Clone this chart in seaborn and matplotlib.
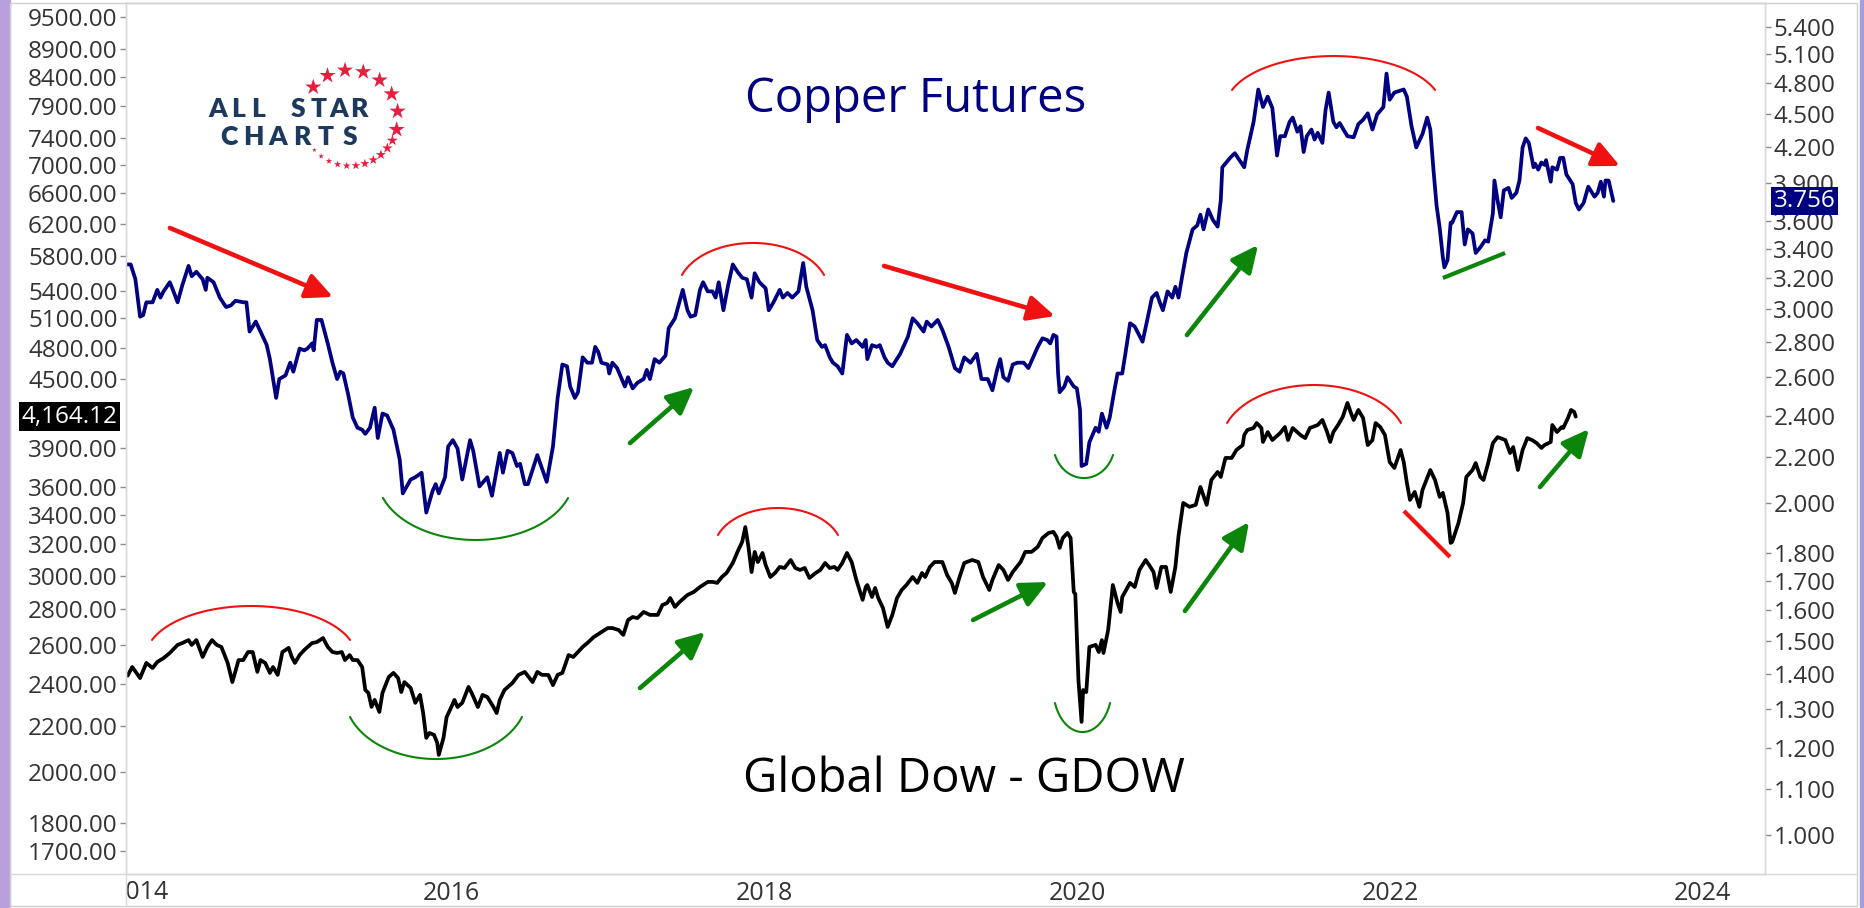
import matplotlib

matplotlib.use("Agg")
import matplotlib.pyplot as plt
import matplotlib.transforms as mtransforms
import numpy as np
import pandas as pd
import seaborn as sns
from matplotlib.lines import Line2D
from matplotlib.patches import Rectangle
from matplotlib.ticker import FixedLocator, FuncFormatter, NullLocator

# --- Copper futures (right axis), weekly-ish readings ---
copper_year = [
    2014.13, 2014.15, 2014.18, 2014.21, 2014.23, 2014.25, 2014.29, 2014.32, 2014.34, 2014.36,
    2014.40, 2014.42, 2014.45, 2014.48, 2014.52, 2014.54, 2014.57, 2014.61, 2014.63, 2014.64,
    2014.68, 2014.72, 2014.76, 2014.79, 2014.82, 2014.87, 2014.89, 2014.91, 2014.95, 2014.96,
    2015.00, 2015.02, 2015.04, 2015.08, 2015.10, 2015.14, 2015.17, 2015.19, 2015.23, 2015.26,
    2015.28, 2015.31, 2015.32, 2015.34, 2015.37, 2015.41, 2015.44, 2015.47, 2015.49, 2015.51,
    2015.54, 2015.57, 2015.60, 2015.63, 2015.65, 2015.68, 2015.71, 2015.73, 2015.76, 2015.79,
    2015.83, 2015.87, 2015.89, 2015.94, 2015.97, 2016.01, 2016.04, 2016.08, 2016.10, 2016.12,
    2016.16, 2016.18, 2016.21, 2016.24, 2016.27, 2016.32, 2016.34, 2016.38, 2016.43, 2016.46,
    2016.51, 2016.53, 2016.56, 2016.59, 2016.62, 2016.64, 2016.67, 2016.69, 2016.75, 2016.81,
    2016.85, 2016.88, 2016.91, 2016.94, 2016.96, 2016.99, 2017.01, 2017.04, 2017.07, 2017.10,
    2017.12, 2017.14, 2017.16, 2017.20, 2017.21, 2017.23, 2017.26, 2017.29, 2017.31, 2017.33,
    2017.36, 2017.39, 2017.43, 2017.45, 2017.47, 2017.50, 2017.53, 2017.57, 2017.59, 2017.63,
    2017.65, 2017.68, 2017.71, 2017.73, 2017.76, 2017.79, 2017.81, 2017.84, 2017.87, 2017.89,
    2017.91, 2017.94, 2017.97, 2018.00, 2018.03, 2018.06, 2018.09, 2018.12, 2018.14, 2018.17,
    2018.21, 2018.23, 2018.26, 2018.30, 2018.32, 2018.35, 2018.38, 2018.42, 2018.45, 2018.47,
    2018.51, 2018.54, 2018.57, 2018.59, 2018.62, 2018.64, 2018.67, 2018.70, 2018.73, 2018.76,
    2018.79, 2018.83, 2018.85, 2018.86, 2018.89, 2018.92, 2018.94, 2018.97, 2018.99, 2019.02,
    2019.07, 2019.12, 2019.15, 2019.18, 2019.22, 2019.24, 2019.27, 2019.31, 2019.34, 2019.38,
    2019.42, 2019.45, 2019.48, 2019.52, 2019.56, 2019.59, 2019.63, 2019.66, 2019.69, 2019.71,
    2019.73, 2019.76, 2019.79, 2019.82, 2019.86, 2019.89, 2019.95, 2019.98, 2020.01, 2020.03,
    2020.05, 2020.07, 2020.08, 2020.09, 2020.12, 2020.14, 2020.18, 2020.20, 2020.22, 2020.23,
    2020.26, 2020.28, 2020.32, 2020.34, 2020.36, 2020.39, 2020.41, 2020.44, 2020.46, 2020.49,
    2020.51, 2020.54, 2020.57, 2020.62, 2020.65, 2020.68, 2020.71, 2020.73, 2020.75, 2020.78,
    2020.81, 2020.83, 2020.85, 2020.87, 2020.90, 2020.94, 2020.97, 2020.99, 2021.01, 2021.04,
    2021.07, 2021.10, 2021.12, 2021.13, 2021.18, 2021.21, 2021.24, 2021.27, 2021.29, 2021.33,
    2021.36, 2021.39, 2021.42, 2021.45, 2021.48, 2021.50, 2021.53, 2021.56, 2021.58, 2021.61,
    2021.63, 2021.65, 2021.67, 2021.70, 2021.72, 2021.74, 2021.77, 2021.79, 2021.81, 2021.84,
    2021.86, 2021.88, 2021.93, 2021.97, 2022.00, 2022.03, 2022.06, 2022.09, 2022.12, 2022.16,
    2022.18, 2022.20, 2022.23, 2022.29, 2022.31, 2022.34, 2022.37, 2022.41, 2022.44, 2022.46,
    2022.48, 2022.50, 2022.52, 2022.54, 2022.55, 2022.57, 2022.59, 2022.60, 2022.63, 2022.66,
    2022.68, 2022.70, 2022.73, 2022.75, 2022.78, 2022.81, 2022.83, 2022.86, 2022.87, 2022.89,
    2022.91, 2022.93, 2022.96, 2022.98, 2023.01, 2023.03, 2023.05, 2023.07, 2023.09, 2023.12,
    2023.13, 2023.15, 2023.17, 2023.19, 2023.20, 2023.23, 2023.24, 2023.27, 2023.29, 2023.31,
    2023.33, 2023.37, 2023.39, 2023.41, 2023.44, 2023.47, 2023.51, 2023.53, 2023.55, 2023.57,
    2023.58, 2023.60, 2023.63,
]
copper_price = [
    3.29, 3.29, 3.19, 2.95, 2.96, 3.04, 3.04, 3.12, 3.07, 3.11,
    3.17, 3.12, 3.04, 3.15, 3.28, 3.21, 3.24, 3.19, 3.12, 3.20,
    3.17, 3.07, 3.01, 3.02, 3.05, 3.04, 3.04, 2.86, 2.92, 2.90,
    2.82, 2.78, 2.70, 2.49, 2.59, 2.61, 2.68, 2.63, 2.76, 2.75,
    2.76, 2.79, 2.75, 2.93, 2.93, 2.79, 2.68, 2.59, 2.63, 2.62,
    2.51, 2.39, 2.34, 2.33, 2.31, 2.34, 2.44, 2.29, 2.41, 2.40,
    2.33, 2.19, 2.04, 2.10, 2.11, 2.13, 1.96, 2.05, 2.08, 2.04,
    2.11, 2.25, 2.28, 2.24, 2.10, 2.28, 2.23, 2.07, 2.11, 2.03,
    2.22, 2.13, 2.23, 2.22, 2.16, 2.17, 2.08, 2.08, 2.21, 2.09,
    2.25, 2.49, 2.67, 2.66, 2.55, 2.49, 2.52, 2.71, 2.68, 2.68,
    2.77, 2.74, 2.68, 2.67, 2.62, 2.68, 2.65, 2.59, 2.55, 2.60,
    2.54, 2.57, 2.59, 2.64, 2.59, 2.70, 2.68, 2.72, 2.88, 2.94,
    3.01, 3.12, 2.99, 2.95, 2.96, 3.12, 3.17, 3.11, 3.11, 3.07,
    3.17, 2.99, 3.15, 3.29, 3.24, 3.20, 3.19, 3.07, 3.23, 3.17,
    3.13, 2.99, 3.04, 3.12, 3.07, 3.10, 3.07, 3.11, 3.30, 3.14,
    2.99, 2.81, 2.77, 2.78, 2.71, 2.68, 2.66, 2.62, 2.84, 2.79,
    2.81, 2.77, 2.81, 2.70, 2.78, 2.77, 2.78, 2.71, 2.68, 2.66,
    2.73, 2.83, 2.94, 2.91, 2.86, 2.92, 2.89, 2.93, 2.87, 2.77,
    2.65, 2.63, 2.71, 2.68, 2.73, 2.59, 2.59, 2.53, 2.64, 2.70,
    2.60, 2.58, 2.67, 2.68, 2.68, 2.65, 2.77, 2.82, 2.81, 2.79,
    2.84, 2.83, 2.62, 2.52, 2.55, 2.60, 2.55, 2.54, 2.43, 2.16,
    2.17, 2.27, 2.34, 2.32, 2.41, 2.34, 2.39, 2.53, 2.62, 2.62,
    2.73, 2.91, 2.89, 2.80, 2.93, 3.07, 3.10, 3.04, 2.99, 3.11,
    3.07, 3.14, 3.07, 3.19, 3.37, 3.54, 3.57, 3.65, 3.54, 3.69,
    3.61, 3.56, 3.76, 4.03, 4.11, 4.15, 4.09, 4.03, 4.18, 4.43,
    4.74, 4.57, 4.67, 4.56, 4.13, 4.30, 4.30, 4.43, 4.47, 4.34,
    4.39, 4.16, 4.30, 4.36, 4.27, 4.33, 4.24, 4.54, 4.71, 4.43,
    4.38, 4.42, 4.30, 4.29, 4.41, 4.45, 4.51, 4.36, 4.50, 4.57,
    4.90, 4.64, 4.71, 4.74, 4.67, 4.39, 4.20, 4.32, 4.47, 4.36,
    4.01, 3.72, 3.55, 3.34, 3.27, 3.32, 3.59, 3.59, 3.67, 3.67,
    3.43, 3.54, 3.51, 3.37, 3.41, 3.46, 3.45, 3.66, 3.92, 3.76,
    3.63, 3.84, 3.86, 3.78, 3.82, 3.92, 4.20, 4.28, 4.24, 4.03,
    4.06, 4.01, 4.07, 4.05, 4.09, 3.91, 4.03, 4.01, 4.11, 4.11,
    3.97, 3.89, 3.74, 3.69, 3.74, 3.87, 3.79, 3.82, 3.91, 3.79,
    3.92, 3.92, 3.756,
]

# --- Global Dow (left axis) ---
gdow_year = [
    2014.13, 2014.16, 2014.21, 2014.25, 2014.29, 2014.32, 2014.36, 2014.40, 2014.45, 2014.48,
    2014.52, 2014.54, 2014.57, 2014.61, 2014.64, 2014.67, 2014.70, 2014.73, 2014.77, 2014.80,
    2014.84, 2014.87, 2014.90, 2014.93, 2014.96, 2014.98, 2015.01, 2015.04, 2015.06, 2015.09,
    2015.12, 2015.16, 2015.18, 2015.20, 2015.23, 2015.26, 2015.31, 2015.34, 2015.38, 2015.41,
    2015.44, 2015.47, 2015.50, 2015.52, 2015.55, 2015.57, 2015.60, 2015.63, 2015.65, 2015.67,
    2015.69, 2015.71, 2015.74, 2015.76, 2015.80, 2015.83, 2015.86, 2015.88, 2015.90, 2015.94,
    2015.97, 2016.00, 2016.02, 2016.04, 2016.06, 2016.09, 2016.11, 2016.12, 2016.15, 2016.17,
    2016.20, 2016.22, 2016.24, 2016.27, 2016.31, 2016.33, 2016.37, 2016.40, 2016.43, 2016.47,
    2016.49, 2016.51, 2016.54, 2016.59, 2016.63, 2016.67, 2016.72, 2016.75, 2016.78, 2016.82,
    2016.85, 2016.88, 2016.91, 2016.95, 2016.98, 2017.04, 2017.07, 2017.11, 2017.15, 2017.20,
    2017.23, 2017.27, 2017.30, 2017.33, 2017.36, 2017.39, 2017.43, 2017.47, 2017.52, 2017.55,
    2017.58, 2017.60, 2017.63, 2017.66, 2017.71, 2017.75, 2017.79, 2017.84, 2017.87, 2017.90,
    2017.93, 2017.96, 2017.98, 2018.00, 2018.03, 2018.06, 2018.08, 2018.10, 2018.12, 2018.14,
    2018.16, 2018.19, 2018.21, 2018.24, 2018.27, 2018.30, 2018.33, 2018.37, 2018.40, 2018.43,
    2018.46, 2018.49, 2018.53, 2018.56, 2018.59, 2018.62, 2018.65, 2018.67, 2018.70, 2018.73,
    2018.76, 2018.79, 2018.83, 2018.85, 2018.86, 2018.89, 2018.91, 2018.93, 2018.96, 2018.99,
    2019.02, 2019.05, 2019.08, 2019.11, 2019.15, 2019.18, 2019.21, 2019.23, 2019.26, 2019.29,
    2019.34, 2019.37, 2019.40, 2019.42, 2019.45, 2019.48, 2019.53, 2019.57, 2019.60, 2019.64,
    2019.66, 2019.70, 2019.73, 2019.76, 2019.79, 2019.84, 2019.87, 2019.91, 2019.95, 2019.98,
    2020.02, 2020.05, 2020.07, 2020.09, 2020.11, 2020.14, 2020.16, 2020.18, 2020.19, 2020.21,
    2020.23, 2020.24, 2020.26, 2020.28, 2020.32, 2020.34, 2020.36, 2020.37, 2020.40, 2020.43,
    2020.46, 2020.48, 2020.49, 2020.54, 2020.57, 2020.60, 2020.64, 2020.67, 2020.69, 2020.71,
    2020.74, 2020.77, 2020.80, 2020.83, 2020.85, 2020.88, 2020.92, 2020.96, 2020.99, 2021.03,
    2021.06, 2021.10, 2021.12, 2021.15, 2021.19, 2021.22, 2021.26, 2021.27, 2021.29, 2021.33,
    2021.35, 2021.38, 2021.39, 2021.42, 2021.45, 2021.50, 2021.53, 2021.55, 2021.58, 2021.63,
    2021.66, 2021.69, 2021.74, 2021.77, 2021.80, 2021.82, 2021.84, 2021.87, 2021.90, 2021.93,
    2021.95, 2021.97, 2022.00, 2022.03, 2022.06, 2022.09, 2022.11, 2022.14, 2022.17, 2022.20,
    2022.23, 2022.27, 2022.29, 2022.31, 2022.33, 2022.36, 2022.39, 2022.41, 2022.46, 2022.49,
    2022.52, 2022.54, 2022.57, 2022.59, 2022.60, 2022.64, 2022.67, 2022.69, 2022.73, 2022.75,
    2022.78, 2022.80, 2022.83, 2022.86, 2022.89, 2022.94, 2022.97, 2022.99, 2023.02, 2023.05,
    2023.08, 2023.11, 2023.14, 2023.17, 2023.19, 2023.23, 2023.24, 2023.27, 2023.30, 2023.31,
    2023.34, 2023.36, 2023.38, 2023.39,
]
gdow_price = [
    2440, 2484, 2428, 2505, 2479, 2510, 2530, 2557, 2600, 2610,
    2626, 2600, 2626, 2536, 2589, 2626, 2600, 2589, 2505, 2408,
    2520, 2520, 2562, 2562, 2459, 2520, 2505, 2454, 2484, 2444,
    2562, 2584, 2536, 2505, 2546, 2573, 2610, 2615, 2637, 2589,
    2562, 2557, 2562, 2520, 2546, 2520, 2520, 2484, 2369, 2355,
    2288, 2321, 2264, 2355, 2433, 2454, 2428, 2359, 2408, 2379,
    2307, 2345, 2259, 2146, 2168, 2159, 2124, 2072, 2146, 2240,
    2287, 2321, 2287, 2307, 2384, 2355, 2287, 2345, 2335, 2287,
    2259, 2321, 2369, 2403, 2444, 2459, 2408, 2459, 2444, 2444,
    2393, 2444, 2454, 2546, 2536, 2589, 2610, 2642, 2664, 2692,
    2692, 2681, 2654, 2737, 2754, 2748, 2783, 2766, 2766, 2823,
    2835, 2864, 2812, 2841, 2882, 2900, 2930, 2961, 2961, 2955,
    2991, 3016, 3047, 3079, 3150, 3216, 3316, 3183, 3022, 3150,
    3085, 3143, 3066, 2991, 3016, 3054, 3047, 3098, 3047, 3035,
    3047, 2985, 3016, 3035, 3079, 3047, 3054, 3035, 3079, 3143,
    3085, 2973, 2853, 2930, 2942, 2870, 2924, 2864, 2806, 2698,
    2766, 2864, 2912, 2942, 2991, 2955, 3016, 2991, 3054, 3085,
    3085, 3004, 2955, 2894, 2991, 3079, 3098, 3085, 2991, 2912,
    2973, 3066, 3035, 2973, 3022, 3085, 3150, 3150, 3183, 3242,
    3276, 3283, 3249, 3176, 3242, 3276, 3242, 2900, 2888, 2418,
    2218, 2369, 2359, 2589, 2600, 2562, 2626, 2557, 2681, 2942,
    2835, 2783, 2870, 2955, 2930, 3035, 3098, 3054, 3022, 2924,
    3054, 3054, 2900, 3054, 3256, 3485, 3457, 3471, 3602, 3471,
    3654, 3715, 3677, 3824, 3824, 3887, 3927, 4009, 4051, 4068,
    4110, 4068, 3952, 4034, 3968, 4026, 4076, 3968, 4068, 4009,
    3984, 4068, 4093, 4136, 4034, 3952, 4034, 4093, 4162, 4284,
    4205, 4136, 4222, 4153, 3927, 3968, 4110, 4076, 4009, 3792,
    3746, 3887, 3792, 3632, 3507, 3565, 3457, 3580, 3730, 3654,
    3529, 3558, 3414, 3209, 3216, 3344, 3485, 3677, 3730, 3784,
    3677, 3654, 3784, 3943, 3992, 3968, 3863, 3911, 3730, 3887,
    3984, 3968, 3943, 3904, 3927, 3952, 4093, 4034, 4076, 4068,
    4153, 4222, 4205, 4164.12,
]

gdow_ticks = [1700, 1800, 2000, 2200, 2400, 2600, 2800, 3000, 3200, 3400, 3600, 3900,
              4500, 4800, 5100, 5400, 5800, 6200, 6600, 7000, 7400, 7900, 8400, 8900, 9500]
copper_ticks = [1.0, 1.1, 1.2, 1.3, 1.4, 1.5, 1.6, 1.7, 1.8, 2.0, 2.2, 2.4, 2.6, 2.8,
                3.0, 3.2, 3.4, 3.6, 3.9, 4.2, 4.5, 4.8, 5.1, 5.4]
year_ticks = [2016, 2018, 2020, 2022, 2024]

NAVY = "#000080"
RED = "#f01212"
GREEN = "#0b860b"
GRID = "#d9d9d9"


def draw_arrow(ax, tail, head, color):
    ax.annotate("", xy=head, xytext=tail, xycoords="axes fraction", textcoords="axes fraction",
                arrowprops=dict(arrowstyle="-|>,head_length=0.95,head_width=0.45", color=color, lw=3.3,
                                shrinkA=0, shrinkB=0, mutation_scale=17), zorder=6)


def draw_segment(ax, p0, p1, color):
    ax.plot([p0[0], p1[0]], [p0[1], p1[1]], transform=ax.transAxes, color=color, lw=3.0,
            solid_capstyle="butt", zorder=6)


def draw_arc(ax, x0, x1, y_end, y_peak, color):
    # elliptical arc through both ends and the apex, in axes fraction
    a = np.deg2rad(20)
    rx = (x1 - x0) / 2 / np.cos(a)
    ry = (y_peak - y_end) / (1 - np.sin(a))
    t = np.linspace(a, np.pi - a, 80)
    ax.plot((x0 + x1) / 2 + rx * np.cos(t), y_peak - ry + ry * np.sin(t), transform=ax.transAxes,
            color=color, lw=1.5, zorder=6)


sns.set_style("white")
plt.rcParams["font.family"] = ["Open Sans", "DejaVu Sans"]

W, H = 1865, 908
fig = plt.figure(figsize=(W / 100, H / 100), dpi=100)
fig.patch.set_facecolor("white")
ax = fig.add_axes([126 / W, 34 / H, 1639 / W, 871 / H])
ax2 = ax.twinx()

gdow_df = pd.DataFrame({"year": gdow_year, "price": gdow_price})
copper_df = pd.DataFrame({"year": copper_year, "price": copper_price})
sns.lineplot(data=gdow_df, x="year", y="price", ax=ax, color="black", lw=2.7, estimator=None, sort=False)
sns.lineplot(data=copper_df, x="year", y="price", ax=ax2, color=NAVY, lw=2.7, estimator=None, sort=False)

ax.set_yscale("log")
ax2.set_yscale("log")
ax.set_xlim(2014.12, 2024.60)
ax.set_ylim(1620.5, 9778)
ax2.set_ylim(0.9218, 5.678)
for a in (ax, ax2):
    a.set_xlabel("")
    a.set_ylabel("")
    a.yaxis.set_minor_locator(NullLocator())

ax.yaxis.set_major_locator(FixedLocator(gdow_ticks))
ax.yaxis.set_major_formatter(FuncFormatter(lambda v, _: f"{v:.2f}"))
ax2.yaxis.set_major_locator(FixedLocator(copper_ticks))
ax2.yaxis.set_major_formatter(FuncFormatter(lambda v, _: f"{v:.3f}"))
ax.tick_params(axis="y", direction="out", length=4, width=1, color="#8a8a8a", labelsize=17.5,
               labelcolor="#333333", pad=2)
ax2.tick_params(axis="y", direction="out", length=4, width=1, color="#8a8a8a", labelsize=17.5,
                labelcolor="#333333", pad=2)

ax.set_xticks(year_ticks)
ax.set_xticklabels([str(y) for y in year_ticks])
ax.tick_params(axis="x", direction="out", length=22, width=1, color=GRID, labelsize=18,
               labelcolor="#333333", pad=-17)
shift = mtransforms.ScaledTranslation(3 / 100, 0, fig.dpi_scale_trans)
for lbl in ax.get_xticklabels():
    lbl.set_horizontalalignment("left")
    lbl.set_transform(lbl.get_transform() + shift)

# 2014 label, its first digit sits under the price-scale panel
t2014 = ax.text(2014.0, -0.0068, "2014", transform=ax.get_xaxis_transform(), ha="left", va="top",
                fontsize=18, color="#333333")
t2014.set_transform(t2014.get_transform() + mtransforms.ScaledTranslation(5 / 100, 0, fig.dpi_scale_trans))

for a in (ax, ax2):
    for side in a.spines.values():
        side.set_color(GRID)
        side.set_linewidth(1)
ax.grid(False)
ax2.grid(False)

# last-value tags
ax.text(-0.0052, 4164.12, "4,164.12", transform=mtransforms.blended_transform_factory(ax.transAxes, ax.transData),
        ha="right", va="center", fontsize=17.5, color="white", zorder=8, clip_on=False,
        bbox=dict(boxstyle="square,pad=0.1", fc="black", ec="none"))
ax2.text(1.0052, 3.756, "3.756", transform=mtransforms.blended_transform_factory(ax2.transAxes, ax2.transData),
         ha="left", va="center", fontsize=17.5, color="white", zorder=8, clip_on=False,
         bbox=dict(boxstyle="square,pad=0.1", fc=NAVY, ec="none"))

# titles
ax2.text(0.482, 0.889, "Copper Futures", transform=ax2.transAxes, ha="center", va="center",
         fontsize=34, color=NAVY)
ax2.text(0.5113, 0.109, "Global Dow - GDOW", transform=ax2.transAxes, ha="center", va="center",
         fontsize=34, color="black")

# logo
LOGO = "#1d3a5c"
for word, x0, dx, yy in (("ALL STAR", 0.0560, 0.01227, 0.8783), ("CHARTS", 0.0628, 0.01476, 0.8462)):
    for i, ch in enumerate(word):
        ax2.text(x0 + i * dx, yy, ch, transform=ax2.transAxes, ha="center", va="center",
                 fontsize=19, fontweight="heavy", color=LOGO, family=["Lato", "DejaVu Sans"])
star_angles = np.deg2rad(np.r_[np.arange(140, -20, -22), np.arange(-28, -140, -11)])
star_sizes = np.r_[np.full(8, 150.0), np.linspace(70, 12, 11)]
ax2.scatter(0.1367 + 0.0293 * np.cos(star_angles), 0.8680 + 0.0551 * np.sin(star_angles),
            s=star_sizes, marker="*", color="#e3203f", linewidths=0, transform=ax2.transAxes, zorder=7)

# annotations: trend arrows
for tail, head in (((0.0268, 0.7417), (0.1263, 0.6625)),
                   ((0.4625, 0.6981), (0.5668, 0.6406)),
                   ((0.8615, 0.8565), (0.9115, 0.8129))):
    draw_arrow(ax2, tail, head, RED)
for tail, head in (((0.3075, 0.4948), (0.3466, 0.5591)),
                   ((0.6473, 0.6188), (0.6907, 0.7222)),
                   ((0.3136, 0.2135), (0.3533, 0.2778)),
                   ((0.5168, 0.2916), (0.5625, 0.3352)),
                   ((0.6461, 0.3020), (0.6852, 0.4041)),
                   ((0.8627, 0.4443), (0.8926, 0.5109))):
    draw_arrow(ax2, tail, head, GREEN)
draw_segment(ax2, (0.8035, 0.6843), (0.8414, 0.7130), GREEN)
draw_segment(ax2, (0.7797, 0.4168), (0.8078, 0.3640), RED)

# tops and bottoms
for x0, x1, ye, yp in ((0.0159, 0.1367, 0.2687, 0.3077),
                       (0.3392, 0.4259, 0.6877, 0.7245),
                       (0.3612, 0.4344, 0.3892, 0.4202),
                       (0.6748, 0.7987, 0.9001, 0.9391),
                       (0.6718, 0.7779, 0.5178, 0.5614)):
    draw_arc(ax2, x0, x1, ye, yp, RED)
for x0, x1, ye, yp in ((0.1568, 0.2697, 0.4317, 0.3835),
                       (0.1367, 0.2416, 0.1803, 0.1320),
                       (0.5668, 0.6022, 0.4811, 0.4546),
                       (0.5668, 0.6004, 0.1963, 0.1630)):
    draw_arc(ax2, x0, x1, ye, yp, GREEN)

ax.set_xlim(2014.12, 2024.60)

# window frame; the white block hides the part of the 2014 label left of the plot
fig.add_artist(Rectangle((11 / W, 3 / H), 115.5 / W, 30.5 / H, transform=fig.transFigure,
                         color="white", zorder=3))
fig.add_artist(Rectangle((0, 0), 10 / W, 1, transform=fig.transFigure, color="#b7a0dc", zorder=4))
fig.add_artist(Rectangle((1860 / W, 0), 5 / W, 1, transform=fig.transFigure, color="#a29ee0", zorder=4))
fig.add_artist(Rectangle((10 / W, 2 / H), 1847 / W, 903 / H, transform=fig.transFigure, fill=False,
                         ec="#d0d0d0", lw=1, zorder=4))
fig.add_artist(Line2D([10 / W, 1857 / W], [34 / H, 34 / H], transform=fig.transFigure, color=GRID,
                      lw=1, zorder=4))
fig.add_artist(Line2D([126 / W, 126 / W], [3 / H, 34 / H], transform=fig.transFigure, color=GRID,
                      lw=1, zorder=4))

fig.savefig("out.png", dpi=100)
